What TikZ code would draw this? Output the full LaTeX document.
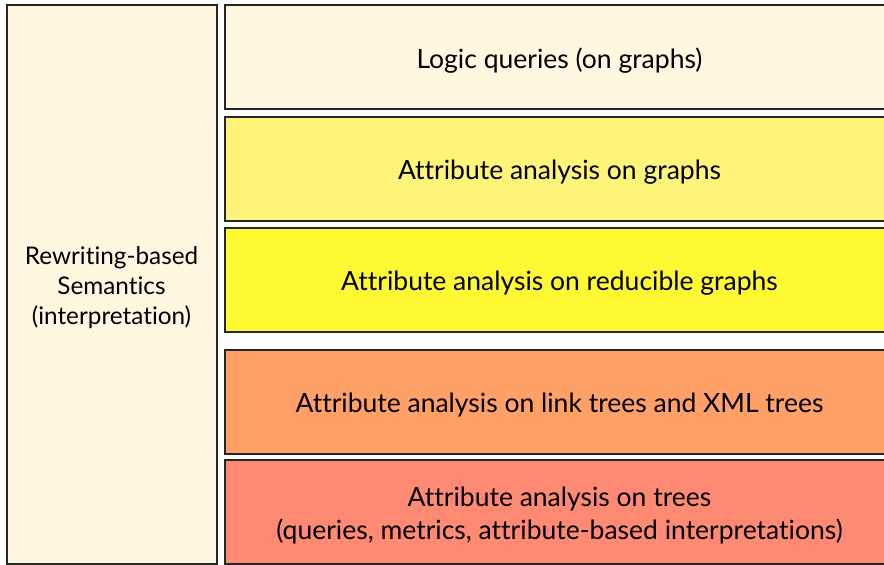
\documentclass[tikz,border=0pt]{standalone}
\usepackage{fontspec}
\setmainfont[Ligatures={NoCommon}]{Lato}
\definecolor{cream}{HTML}{FFF7DF}
\definecolor{lightyel}{HTML}{FFF47A}
\definecolor{brightyel}{HTML}{FFF933}
\definecolor{orng}{HTML}{FFA066}
\definecolor{salmon}{HTML}{FF8A73}
\begin{document}
\begin{tikzpicture}[x=1pt,y=1pt,
  layer/.style={draw=black!85,line width=2pt,minimum width=669pt,minimum height=104pt,inner sep=0pt},
  side/.style={draw=black!85,line width=2pt,minimum width=210pt,minimum height=559pt,inner sep=0pt},
  layertext/.style={inner sep=0pt,align=center,font=\fontsize{26.5}{33}\selectfont},
  sidetext/.style={inner sep=0pt,align=center,font=\fontsize{24.3}{30}\selectfont}]
\useasboundingbox (0,0) rectangle (884,-565);
\clip (0,0) rectangle (884,-565);
\node[side,fill=cream] (sem) at (111.5,-284) {};
\node[layer,fill=cream] (logic) at (559.5,-57) {};
\node[layer,fill=lightyel] (graphs) at (559.5,-169) {};
\node[layer,fill=brightyel] (redu) at (559.5,-280) {};
\node[layer,fill=orng] (link) at (559.5,-402) {};
\node[layer,fill=salmon] (trees) at (559.5,-512) {};
\node[sidetext] (semt) at ([yshift=-4pt]sem.center) {Rewriting-based\\Semantics\\(interpretation)};
\node[layertext] (logict) at ([yshift=-3.5pt]logic.center) {Logic queries (on graphs)};
\node[layertext] (graphst) at ([yshift=-3.5pt]graphs.center) {Attribute analysis on graphs};
\node[layertext] (redut) at ([yshift=-3.5pt]redu.center) {Attribute analysis on reducible graphs};
\node[layertext] (linkt) at ([yshift=-3.5pt]link.center) {Attribute analysis on link trees and XML trees};
\node[layertext] (treest) at ([yshift=-4pt]trees.center) {Attribute analysis on trees\\(queries, metrics, attribute-based interpretations)};
\end{tikzpicture}
\end{document}
